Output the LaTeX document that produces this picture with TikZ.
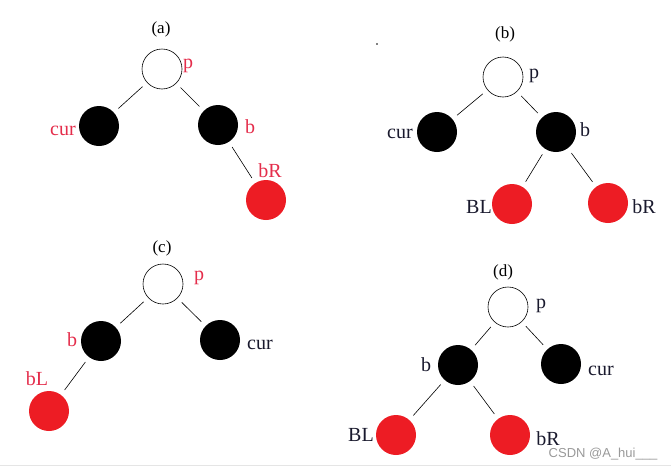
\documentclass[tikz,border=0pt]{standalone}
\usepackage{fontspec}
\setmainfont{Liberation Serif}
\newfontfamily\wmfont{Liberation Sans}
\definecolor{paintred}{RGB}{237,28,36}
\definecolor{txtred}{RGB}{228,45,75}
\definecolor{txtdark}{RGB}{25,25,45}
\tikzset{
  wnode/.style={circle,draw,line width=0.6pt,fill=white,minimum size=40pt,inner sep=0pt},
  bnode/.style={circle,fill=black,minimum size=40pt,inner sep=0pt},
  rnode/.style={circle,fill=paintred,minimum size=40pt,inner sep=0pt},
  link/.style={line width=0.6pt,shorten >=6pt,shorten <=6pt},
  tag/.style={anchor=base,inner sep=0pt,font=\fontsize{20}{20}\selectfont},
  title/.style={anchor=base,inner sep=0pt,text=black,font=\fontsize{17}{17}\selectfont},
}
\begin{document}
\begin{tikzpicture}[x=1pt,y=-1pt]
  \useasboundingbox (0,0) rectangle (671,466);
  % (a)
  \node[title] (a-t) at (161,33) {(a)};
  \node[wnode] (a-p) at (162,69) {};
  \node[bnode] (a-cur) at (99,126) {};
  \node[bnode] (a-b) at (218,125) {};
  \node[rnode] (a-bR) at (266,200) {};
  \draw[link] (a-p) -- (a-cur);
  \draw[link] (a-p) -- (a-b);
  \draw[link] (a-b) -- (a-bR);
  \node[tag,txtred] (a-lp) at (188,68) {p};
  \node[tag,txtred] (a-lcur) at (63,135) {cur};
  \node[tag,txtred] (a-lb) at (250,133) {b};
  \node[tag,txtred] (a-lbR) at (270,177) {bR};
  % (b)
  \fill (377,44) circle (0.8);
  \node[title] (b-t) at (505,38) {(b)};
  \node[wnode] (b-p) at (503,77) {};
  \node[bnode] (b-cur) at (437,132) {};
  \node[bnode] (b-b) at (556,132) {};
  \node[rnode] (b-BL) at (512,204) {};
  \node[rnode] (b-bR) at (608,203) {};
  \draw[link] (b-p) -- (b-cur);
  \draw[link] (b-p) -- (b-b);
  \draw[link] (b-b) -- (b-BL);
  \draw[link] (b-b) -- (b-bR);
  \node[tag,txtdark] (b-lp) at (534,78) {p};
  \node[tag,txtdark] (b-lcur) at (400,138) {cur};
  \node[tag,txtdark] (b-lb) at (585,136) {b};
  \node[tag,txtdark] (b-lBL) at (479,213) {BL};
  \node[tag,txtdark] (b-lbR) at (644,213) {bR};
  % (c)
  \node[title] (c-t) at (162,252) {(c)};
  \node[wnode] (c-p) at (163,284) {};
  \node[bnode] (c-b) at (101,341) {};
  \node[bnode] (c-cur) at (220,340) {};
  \node[rnode] (c-bL) at (49,411) {};
  \draw[link] (c-p) -- (c-b);
  \draw[link] (c-p) -- (c-cur);
  \draw[link] (c-b) -- (c-bL);
  \node[tag,txtred] (c-lp) at (199,280) {p};
  \node[tag,txtred] (c-lb) at (72,346) {b};
  \node[tag,txtdark] (c-lcur) at (260,349) {cur};
  \node[tag,txtred] (c-lbL) at (37,385) {bL};
  % (d)
  \node[title] (d-t) at (503,276) {(d)};
  \node[wnode] (d-p) at (508,307) {};
  \node[bnode] (d-b) at (458,365) {};
  \node[bnode] (d-cur) at (561,364) {};
  \node[rnode] (d-BL) at (396,435) {};
  \node[rnode] (d-bR) at (510,435) {};
  \draw[link] (d-p) -- (d-b);
  \draw[link] (d-p) -- (d-cur);
  \draw[link] (d-b) -- (d-BL);
  \draw[link] (d-b) -- (d-bR);
  \node[tag,txtdark] (d-lp) at (541,308) {p};
  \node[tag,txtdark] (d-lb) at (426,371) {b};
  \node[tag,txtdark] (d-lcur) at (601,375) {cur};
  \node[tag,txtdark] (d-lBL) at (361,441) {BL};
  \node[tag,txtdark] (d-lbR) at (548,445) {bR};
  % watermark
  \node[anchor=base,inner sep=0pt,text=black!40,font=\wmfont\fontsize{13}{13}\selectfont] (wm) at (603,457) {CSDN @A\_hui\_\_\_};
  \draw[black!10] (0,465) -- (671,465);
\end{tikzpicture}
\end{document}
